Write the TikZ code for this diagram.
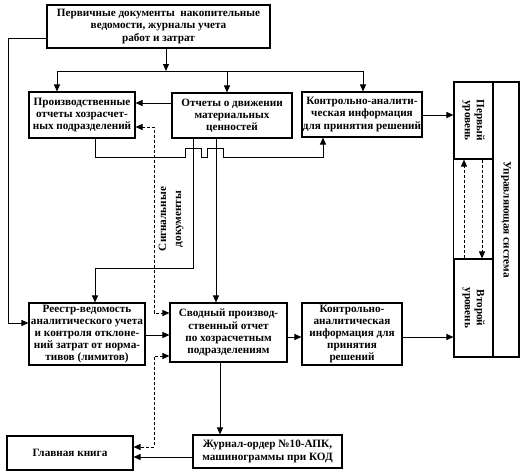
\documentclass[tikz,border=0pt]{standalone}
\usepackage{fontspec}
\setmainfont{Liberation Serif}
\usetikzlibrary{arrows.meta}
\begin{document}
\begin{tikzpicture}[x=1pt,y=-1pt,
  box/.style={draw,line width=1.1pt,inner sep=0pt,align=center,font=\bfseries\fontsize{11.2}{12.2}\selectfont},
  conn/.style={line width=1pt},
  arr/.style={conn,-{Triangle[length=7pt,width=6pt]}},
  darr/.style={conn,dashed,dash pattern=on 3pt off 2pt,{Triangle[length=7pt,width=6pt]}-{Triangle[length=7pt,width=6pt]}},
  darr1/.style={conn,dashed,dash pattern=on 3pt off 2pt,-{Triangle[length=7pt,width=6pt]}},
  lbl/.style={inner sep=0pt,align=center,font=\bfseries\fontsize{11.2}{12.2}\selectfont}]
\fill[white] (0,0) rectangle (525,474);
\useasboundingbox (0,0) rectangle (525,474);
% boxes
\node[box,minimum width=223pt,minimum height=43pt] (top) at (158.5,26.5) {Первичные документы \ накопительные\\ведомости, журналы учета\\работ и затрат};
\node[box,minimum width=106pt,minimum height=46pt] (prod) at (82,115) {Производственные\\отчеты хозрасчет-\\ных подразделений};
\node[box,minimum width=120pt,minimum height=45pt] (otch) at (232,115.5) {Отчеты о движении\\материальных\\ценностей};
\node[box,minimum width=120pt,minimum height=45pt] (kont1) at (362,114.5) {Контрольно-аналити-\\ческая информация\\для принятия решений};
\node[box,minimum width=116pt,minimum height=62pt] (reestr) at (87,334) {Реестр-ведомость\\аналитического учета\\и контроля отклоне-\\ний затрат от норма-\\тивов (лимитов)};
\node[box,minimum width=117pt,minimum height=59pt] (svod) at (228.5,332.5) {Сводный производ-\\ственный отчет\\по хозрасчетным\\подразделениям};
\node[box,minimum width=100pt,minimum height=62pt] (kont2) at (352,334) {Контрольно-\\аналитическая\\информация для\\принятия\\решений};
\node[box,minimum width=149pt,minimum height=33pt] (zhur) at (267.5,451.5) {Журнал-ордер №10-АПК,\\машинограммы при КОД};
\node[box,minimum width=126pt,minimum height=34pt] (glav) at (70,453) {Главная книга};
% control system
\node[box,minimum width=26pt,minimum height=275pt] (col) at (506,219.5) {};
\node[box,minimum width=39pt,minimum height=77pt] (lev1) at (473.5,120.5) {};
\node[box,minimum width=39pt,minimum height=98pt] (lev2) at (473.5,308) {};
\draw[line width=1.1pt] (lev1.south west) -- (lev2.north west);
\node[lbl,rotate=-90] (t1) at (lev1.center) {Первый\\уровень};
\node[lbl,rotate=-90] (t2) at (lev2.center) {Второй\\уровень};
\node[lbl,rotate=-90] (t3) at (col.center) {Управляющая система};
% coordinates
\coordinate (lt) at (8,38);
\coordinate (lb) at (8,323);
\coordinate (hb) at (166,71);
\coordinate (hl) at (57,71);
\coordinate (hm) at (227,71);
\coordinate (hr) at (363,71);
% top connections
\draw[conn] (top.west |- lt) -- (lt) -- (lb);
\draw[arr] (lb) -- (reestr.west |- lb);
\draw[arr] (top.south -| hb) -- (hb);
\draw[conn] (hl) -- (hr);
\draw[arr] (hl) -- (prod.north -| hl);
\draw[arr] (hm) -- (otch.north -| hm);
\draw[arr] (hr) -- (kont1.north -| hr);
\draw[arr] (otch.west |- 0,103) -- (prod.east |- 0,103);
\draw[arr] (kont1.east |- 0,115) -- (lev1.west |- 0,115);
% bumped line
\coordinate (b0) at (95,157);
\coordinate (b1) at (323,157);
\draw[arr] (prod.south -| b0) -- (b0) -- (185,157) -- (185,148) -- (201,148) -- (201,157)
  -- (207,157) -- (207,148) -- (223,148) -- (223,157) -- (b1) -- (kont1.south -| b1);
% from otch down
\coordinate (v1) at (193,268);
\coordinate (v2) at (95,268);
\draw[arr] (otch.south -| v1) -- (v1) -- (v2) -- (reestr.north -| v2);
\coordinate (v3) at (216,200);
\draw[arr] (otch.south -| v3) -- (svod.north -| v3);
% signal documents
\coordinate (d1) at (154,127);
\coordinate (d2) at (154,313);
\draw[darr] (prod.east |- d1) -- (d1) -- (d2) -- (svod.west |- d2);
\coordinate (d3) at (154,356);
\coordinate (d4) at (154,447);
\draw[darr] (svod.west |- d3) -- (d3) -- (d4) -- (glav.east |- d4);
\node[lbl,rotate=90,font=\bfseries\fontsize{11.2}{15}\selectfont] (sig) at (171,219) {Сигнальные\\документы};
% lower connections
\draw[arr] (reestr.east |- 0,335) -- (svod.west |- 0,335);
\draw[arr] (svod.east |- 0,337) -- (kont2.west |- 0,337);
\draw[arr] (kont2.east |- 0,337) -- (lev2.west |- 0,337);
\coordinate (v4) at (220,400);
\draw[arr] (svod.south -| v4) -- (zhur.north -| v4);
\draw[arr] (zhur.west |- 0,457) -- (glav.east |- 0,457);
% levels
\coordinate (u1) at (464,200);
\coordinate (u2) at (482,200);
\draw[darr1] (lev2.north -| u1) -- (lev1.south -| u1);
\draw[darr1] (lev1.south -| u2) -- (lev2.north -| u2);
\end{tikzpicture}
\end{document}
